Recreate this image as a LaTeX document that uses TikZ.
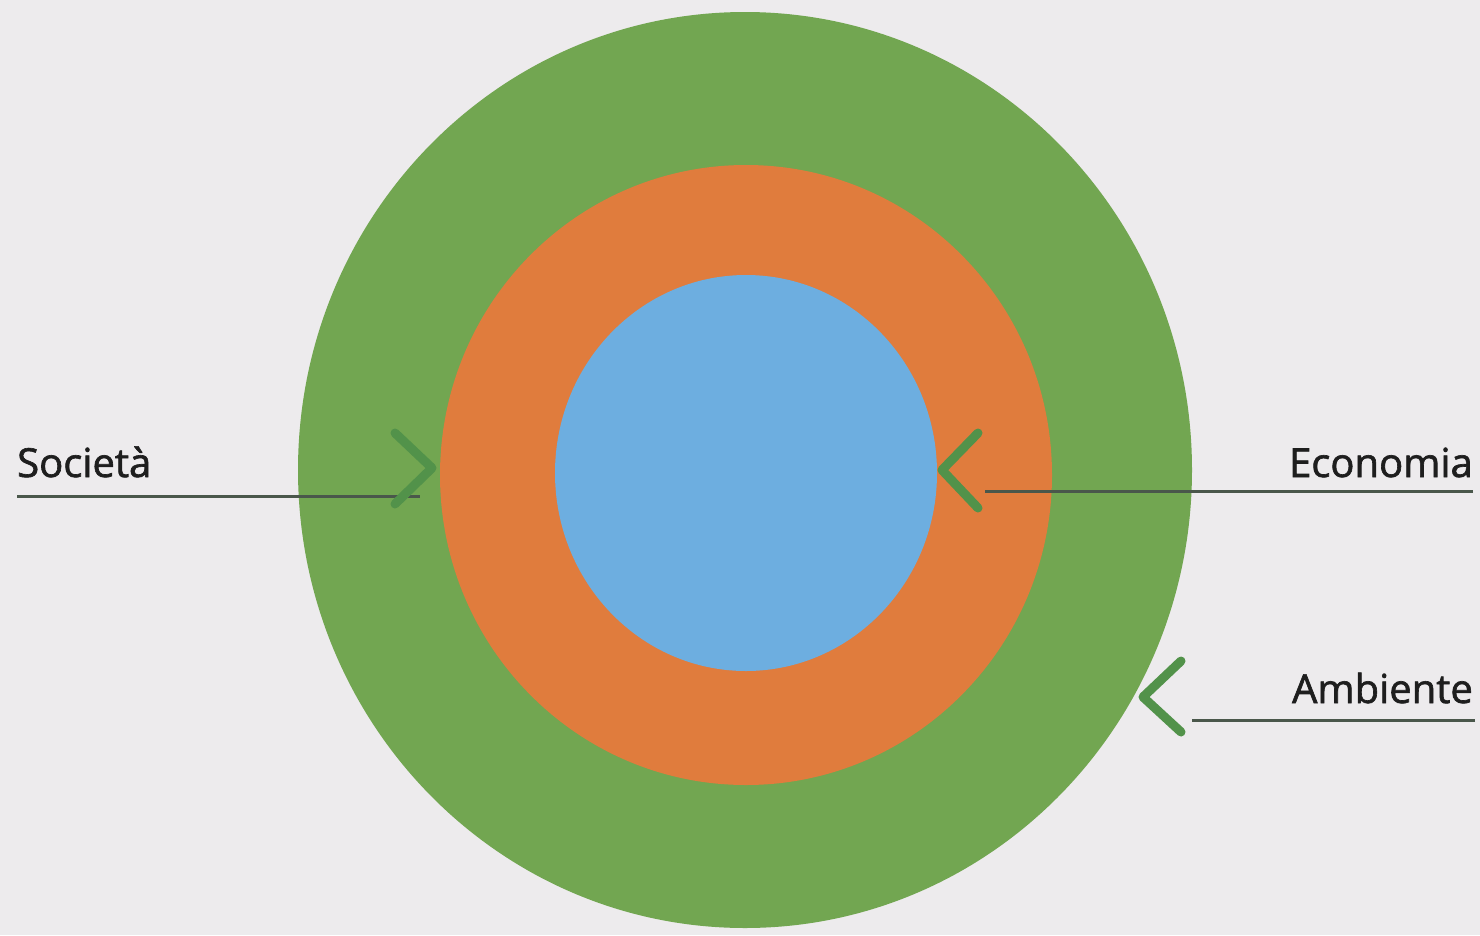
\documentclass[tikz,border=0pt]{standalone}
\usepackage{fontspec}
\newfontfamily\lblfont{Open Sans}[FakeBold=1.6]
\definecolor{bg}{HTML}{EDEBED}
\definecolor{ringgreen}{HTML}{72A651}
\definecolor{ringorange}{HTML}{E07C3D}
\definecolor{ringblue}{HTML}{6DAEE0}
\definecolor{chev}{HTML}{52924A}
\definecolor{linec}{HTML}{4A574B}
\definecolor{txt}{HTML}{1E1E1E}
\tikzset{
  lbl/.style={font=\lblfont\fontsize{40}{40}\selectfont, text=txt, inner sep=0pt},
  leader/.style={draw=linec, line width=3pt},
  chevron/.style={draw=chev, line width=9pt, line cap=round, line join=round},
}
\begin{document}
\begin{tikzpicture}[x=1pt,y=-1pt]
\useasboundingbox (0,0) rectangle (1480,935);
\fill[bg] (0,0) rectangle (1480,935);
\fill[ringgreen] (745,470) ellipse [x radius=447pt, y radius=458pt];
\fill[ringorange] (746,475) ellipse [x radius=306pt, y radius=310pt];
\fill[ringblue] (746,473) ellipse [x radius=191pt, y radius=198pt];
% labels
\node[lbl, anchor=base west] (soc) at (17,477) {Società};
\node[lbl, anchor=base east] (eco) at (1473,477) {Economia};
\node[lbl, anchor=base east] (amb) at (1473,703) {Ambiente};
% leader ends
\coordinate (socL) at (17,496);
\coordinate (socR) at (420,496);
\coordinate (ecoL) at (985,491);
\coordinate (ecoR) at (1473,491);
\coordinate (ambL) at (1192,720);
\coordinate (ambR) at (1475,720);
\draw[leader] (socL) -- (socR);
\draw[leader] (ecoR) -- (ecoL);
\draw[leader] (ambR) -- (ambL);
% chevrons
\coordinate (socT) at (432,468);
\coordinate (ecoT) at (942,470);
\coordinate (ambT) at (1143,697);
\draw[chevron] (395,433) -- (socT) -- (395,504);
\draw[chevron] (978,433) -- (ecoT) -- (978,508);
\draw[chevron] (1181,661) -- (ambT) -- (1181,732);
\end{tikzpicture}
\end{document}
